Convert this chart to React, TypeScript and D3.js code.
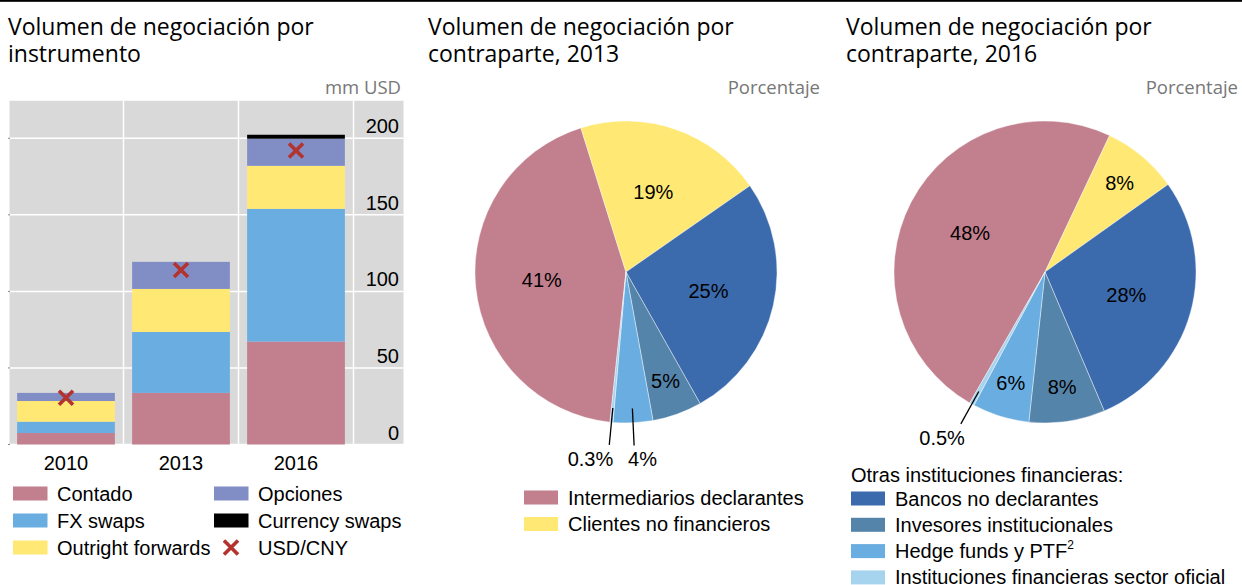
import React from "react";
import * as d3 from "d3";

// ---------- Data ----------
const years = ["2010", "2013", "2016"];
const contado = [7.5, 33.7, 67.2];
const fxSwaps = [7.4, 39.8, 86.7];
const outrightForwards = [13.5, 28.1, 28.1];
const opciones = [5.3, 17.7, 17.7];
const currencySwaps = [0, 0, 2.6];
const usdCny = [30.6, 114, 192];
const yTicks = [0, 50, 100, 150, 200];

const counterparties = [
  "Intermediarios declarantes",
  "Clientes no financieros",
  "Bancos no declarantes",
  "Invesores institucionales",
  "Hedge funds y PTF",
  "Instituciones financieras sector oficial",
];
const share2013 = [41, 19, 25, 5, 4, 0.3];
const share2016 = [48, 8, 28, 8, 6, 0.5];
const labels2013 = ["41%", "19%", "25%", "5%", "4%", "0.3%"];
const labels2016 = ["48%", "8%", "28%", "8%", "6%", "0.5%"];

// ---------- Styles ----------
const W = 1242;
const H = 585;
const TITLE_FONT = "'Open Sans', 'Noto Sans', sans-serif";
const BODY_FONT = "'Liberation Sans', Arial, sans-serif";
const FS = 20;

const C = {
  pink: "#C27F8E",
  yellow: "#FFE873",
  darkBlue: "#3B6BAD",
  steel: "#5584AB",
  light: "#6AADE0",
  lightest: "#A6D3EE",
  purple: "#818EC5",
  black: "#000000",
  red: "#B3332F",
  grey: "#D9D9D9",
};

const barKeys = ["contado", "fxSwaps", "outright", "opciones", "currencySwaps"];
const barColors: Record<string, string> = {
  contado: C.pink,
  fxSwaps: C.light,
  outright: C.yellow,
  opciones: C.purple,
  currencySwaps: C.black,
};
const pieColors = [C.pink, C.yellow, C.darkBlue, C.steel, C.light, C.lightest];

function Cross({ x, y, s = 7 }: { x: number; y: number; s?: number }) {
  return (
    <path
      d={`M${x - s},${y - s}L${x + s},${y + s}M${x - s},${y + s}L${x + s},${y - s}`}
      stroke={C.red}
      strokeWidth={3.6}
      fill="none"
    />
  );
}

function BarPanel() {
  const plotL = 9.5;
  const plotR = 403.5;
  const plotT = 100;
  const plotB = 444.5;
  const x = d3
    .scaleBand<string>()
    .domain(years)
    .range([8.5, 353.5])
    .paddingInner(0.15)
    .paddingOuter(0.075);
  const y = d3.scaleLinear().domain([0, 225]).range([plotB, plotT]);
  const rows = years.map((yr, i) => ({
    year: yr,
    contado: contado[i],
    fxSwaps: fxSwaps[i],
    outright: outrightForwards[i],
    opciones: opciones[i],
    currencySwaps: currencySwaps[i],
  }));
  const stack = d3.stack<any>().keys(barKeys)(rows);
  const step = x.step();
  const bounds = years.map((_, i) => 8.5 + (i + 1) * step);

  return (
    <g>
      <rect x={plotL} y={plotT} width={plotR - plotL} height={plotB - plotT} fill={C.grey} />
      {yTicks.map((t) => (
        <line key={t} x1={plotL} x2={plotR} y1={y(t)} y2={y(t)} stroke="#fff" strokeWidth={1.5} />
      ))}
      <line x1={plotL} x2={plotR} y1={plotT} y2={plotT} stroke="#fff" strokeWidth={1.5} />
      {bounds.map((b, i) => (
        <line key={i} x1={b} x2={b} y1={plotT} y2={plotB} stroke="#fff" strokeWidth={1.5} />
      ))}
      {yTicks.map((t) => (
        <line key={"tk" + t} x1={plotL - 1.5} x2={plotL + 0.5} y1={y(t)} y2={y(t)} stroke="#888" strokeWidth={1} />
      ))}
      {stack.map((layer) =>
        layer.map((d, i) =>
          d[1] - d[0] > 0 ? (
            <rect
              key={layer.key + i}
              x={x(years[i])}
              width={x.bandwidth()}
              y={y(d[1])}
              height={y(d[0]) - y(d[1])}
              fill={barColors[layer.key]}
            />
          ) : null
        )
      )}
      {usdCny.map((v, i) => (
        <Cross key={i} x={(x(years[i]) as number) + x.bandwidth() / 2} y={y(v)} />
      ))}
      {yTicks.map((t) => (
        <text key={"l" + t} x={399} y={y(t) - 5} textAnchor="end" fontFamily={BODY_FONT} fontSize={FS}>
          {t}
        </text>
      ))}
      {years.map((yr) => (
        <text
          key={yr}
          x={(x(yr) as number) + x.bandwidth() / 2}
          y={470}
          textAnchor="middle"
          fontFamily={BODY_FONT}
          fontSize={FS}
        >
          {yr}
        </text>
      ))}
      <text x={401} y={94} textAnchor="end" fontFamily={TITLE_FONT} fontSize={18.5} fill="#777">
        mm USD
      </text>
      {/* legend */}
      {[
        { label: "Contado", color: C.pink, col: 0, row: 0 },
        { label: "FX swaps", color: C.light, col: 0, row: 1 },
        { label: "Outright forwards", color: C.yellow, col: 0, row: 2 },
        { label: "Opciones", color: C.purple, col: 1, row: 0 },
        { label: "Currency swaps", color: C.black, col: 1, row: 1 },
      ].map((it) => {
        const sx = it.col === 0 ? 13 : 214;
        const cy = 493.5 + it.row * 27;
        return (
          <g key={it.label}>
            <rect x={sx} y={cy - 7} width={34.5} height={14} fill={it.color} />
            <text x={sx + 44} y={cy} dy="0.35em" fontFamily={BODY_FONT} fontSize={FS}>
              {it.label}
            </text>
          </g>
        );
      })}
      <Cross x={231} y={547.5} />
      <text x={258} y={547.5} dy="0.35em" fontFamily={BODY_FONT} fontSize={FS}>
        USD/CNY
      </text>
    </g>
  );
}

function Pie({
  cx,
  cy,
  values,
  labels,
  startDeg,
}: {
  cx: number;
  cy: number;
  values: number[];
  labels: string[];
  startDeg: number;
}) {
  const R = 151;
  const s = (startDeg * Math.PI) / 180;
  const pie = d3
    .pie<number>()
    .sort(null)
    .value((d) => d)
    .startAngle(s)
    .endAngle(s + 2 * Math.PI);
  const arcs = pie(values);
  const arc = d3.arc<d3.PieArcDatum<number>>().innerRadius(0).outerRadius(R);
  const polar = (r: number, a: number) => [r * Math.sin(a), -r * Math.cos(a)];
  return (
    <g transform={`translate(${cx},${cy})`}>
      {arcs.map((a, i) => (
        <path key={i} d={arc(a) as string} fill={pieColors[i]} stroke="#fff" strokeWidth={0.4} />
      ))}
      {arcs.map((a, i) => {
        const mid = (a.startAngle + a.endAngle) / 2;
        const v = values[i];
        if (v < 5) {
          const [x1, y1] = polar(R * 0.905, mid);
          const [x2, y2] = polar(R * 1.15, mid);
          const left = Math.sin(mid) < -0.05;
          return (
            <g key={"l" + i}>
              <line x1={x1} y1={y1} x2={x2} y2={y2} stroke="#000" strokeWidth={1.3} />
              <text
                x={left ? x2 + 4 : x2 - 6}
                y={y2 + 14}
                dy="0.35em"
                textAnchor={left ? "end" : "start"}
                fontFamily={BODY_FONT}
                fontSize={FS}
              >
                {labels[i]}
              </text>
            </g>
          );
        }
        const r = v < 15 ? R * 0.77 : R * 0.56;
        const [lx, ly] = polar(r, mid);
        return (
          <text
            key={"l" + i}
            x={lx}
            y={ly}
            dy="0.35em"
            textAnchor="middle"
            fontFamily={BODY_FONT}
            fontSize={FS}
          >
            {labels[i]}
          </text>
        );
      })}
    </g>
  );
}

function Title({ x, lines }: { x: number; lines: string[] }) {
  return (
    <g>
      {lines.map((l, i) => (
        <text key={i} x={x} y={35 + i * 27} fontFamily={TITLE_FONT} fontSize={23} fill="#000">
          {l}
        </text>
      ))}
    </g>
  );
}

export default function App() {
  return (
    <svg
      width={W}
      height={H}
      viewBox={`0 0 ${W} ${H}`}
      style={{ position: "absolute", left: 0, top: 0, background: "#fff" }}
    >
      <rect x={0} y={0} width={W} height={H} fill="#fff" />
      <rect x={0} y={0} width={W} height={1.8} fill="#000" />
      <Title x={8} lines={["Volumen de negociación por", "instrumento"]} />
      <Title x={428} lines={["Volumen de negociación por", "contraparte, 2013"]} />
      <Title x={846} lines={["Volumen de negociación por", "contraparte, 2016"]} />
      <text x={820} y={94} textAnchor="end" fontFamily={TITLE_FONT} fontSize={18.5} fill="#777">
        Porcentaje
      </text>
      <text x={1238} y={94} textAnchor="end" fontFamily={TITLE_FONT} fontSize={18.5} fill="#777">
        Porcentaje
      </text>
      <BarPanel />
      <Pie cx={626} cy={272} values={share2013} labels={labels2013} startDeg={-173.9} />
      <Pie cx={1045} cy={272} values={share2016} labels={labels2016} startDeg={-150.1} />
      {/* middle legend */}
      {[0, 1].map((i) => (
        <g key={"m" + i}>
          <rect x={524} y={497.5 + i * 26.5 - 7} width={34} height={14} fill={pieColors[i]} />
          <text x={568} y={497.5 + i * 26.5} dy="0.35em" fontFamily={BODY_FONT} fontSize={FS}>
            {counterparties[i]}
          </text>
        </g>
      ))}
      {/* right legend */}
      <text x={851} y={474.5} dy="0.35em" fontFamily={BODY_FONT} fontSize={FS}>
        Otras instituciones financieras:
      </text>
      {[2, 3, 4, 5].map((i, k) => (
        <g key={"r" + i}>
          <rect x={851} y={498.5 + k * 26.3 - 7} width={34} height={14} fill={pieColors[i]} />
          <text x={895} y={498.5 + k * 26.3} dy="0.35em" fontFamily={BODY_FONT} fontSize={FS}>
            {counterparties[i]}
            {i === 4 ? (
              <tspan fontSize={12} dy="-0.75em">
                2
              </tspan>
            ) : null}
          </text>
        </g>
      ))}
    </svg>
  );
}
